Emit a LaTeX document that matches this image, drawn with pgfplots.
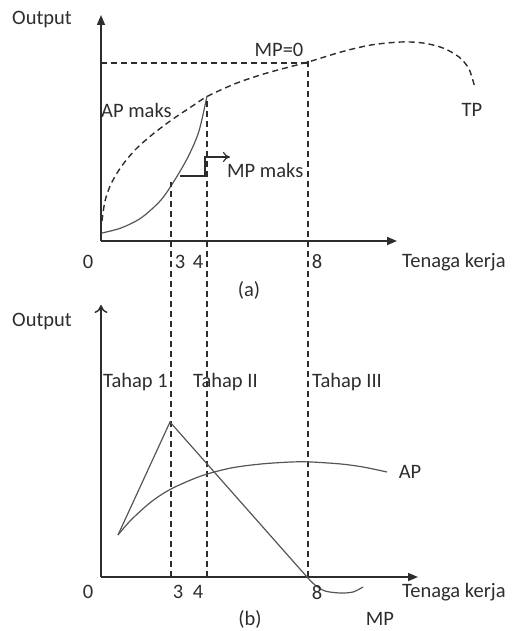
\documentclass[border=0pt]{standalone}
\usepackage{fontspec}
\setmainfont{Carlito}
\usepackage{pgfplots}
\pgfplotsset{compat=1.18}
\usetikzlibrary{arrows.meta}

\definecolor{ink}{RGB}{45,45,45}
\definecolor{curve}{RGB}{85,85,85}

\pgfplotsset{
  panel/.style={x=1pt, y=1pt, axis lines=left, enlargelimits=false,
    xtick=\empty, ytick=\empty, clip=false, xmin=0, ymin=0,
    axis line style={ink, line width=1.5pt}},
  dash/.style={ink, line width=1.4pt, dash pattern=on 6pt off 4pt},
  crv/.style={curve, line width=1.2pt},
}

\begin{document}
\begin{tikzpicture}[x=1pt, y=1pt, font=\fontsize{20.5}{24}\selectfont, text=ink]
\useasboundingbox (0,0) rectangle (512,631);

% (a) total product
\begin{axis}[panel, at={(101,390)}, anchor=south west, xmax=296, ymax=226,
  axis line style={-{Triangle[length=10pt,width=8pt]}}]
  \addplot[dash, smooth] coordinates {
    (1,20) (4,40) (10,57) (20,74) (34,91) (52,107) (72,122) (90,134) (107,145)
    (136,158) (166,168) (207,179) (240,189) (270,196) (300,199) (322,198)
    (342,193) (358,184) (368,172) (374,153)};
  \addplot[crv, smooth] coordinates {
    (1,8) (20,13) (40,23) (60,41) (75,63) (88,86) (98,110) (106,145)};
  \addplot[dash] coordinates {(0,178) (207,178)};
  \addplot[ink, line width=1.1pt, -{To[length=7pt,width=10pt]}] coordinates {
    (79,65) (104,65) (104,84) (129,84)};
  \node at (axis cs:-59,221) {Output};
  \node at (axis cs:-13,-21) {0};
  \node at (axis cs:79,-21) {3};
  \node at (axis cs:97,-21) {4};
  \node at (axis cs:216,-21) {8};
  \node[anchor=west, inner sep=0pt] at (axis cs:301,-21) {Tenaga kerja};
  \node at (axis cs:148,-49) {(a)};
  \node[anchor=west, inner sep=0pt] at (axis cs:0,131) {AP maks};
  \node at (axis cs:178,191) {MP=0};
  \node at (axis cs:371,131) {TP};
  \node[anchor=west, inner sep=0pt] at (axis cs:126,71) {MP maks};
\end{axis}

% (b) average and marginal product
\begin{axis}[panel, at={(101,54)}, anchor=south west, xmax=317, ymax=272,
  x axis line style={-{Triangle[length=10pt,width=8pt]}},
  y axis line style={-{To[length=8pt,width=13pt]}}]
  \addplot[dash] coordinates {(70,0) (70,395)};
  \addplot[dash] coordinates {(106,0) (106,479)};
  \addplot[dash] coordinates {(207,0) (207,517)};
  \addplot[crv] coordinates {(17,42) (69,155) (206,0)};
  \addplot[crv, smooth] coordinates {
    (206,0) (214,-8) (224,-14) (239,-16) (252,-15) (262,-10)};
  \addplot[crv, smooth] coordinates {
    (17,42) (30,57) (50,75) (70,88) (100,101) (130,109) (160,113) (190,115)
    (210,115) (240,113) (262,110) (286,105)};
  \node at (axis cs:-59,255) {Output};
  \node at (axis cs:-13,-15) {0};
  \node at (axis cs:77,-15) {3};
  \node at (axis cs:97,-15) {4};
  \node at (axis cs:216,-16) {8};
  \node[anchor=west, inner sep=0pt] at (axis cs:301,-15) {Tenaga kerja};
  \node at (axis cs:149,-42) {(b)};
  \node at (axis cs:279,-42) {MP};
  \node at (axis cs:309,105) {AP};
  \node[anchor=west, inner sep=0pt] at (axis cs:2,195) {Tahap 1};
  \node[anchor=west, inner sep=0pt] at (axis cs:92,195) {Tahap II};
  \node[anchor=west, inner sep=0pt] at (axis cs:211,195) {Tahap III};
\end{axis}
\end{tikzpicture}
\end{document}
